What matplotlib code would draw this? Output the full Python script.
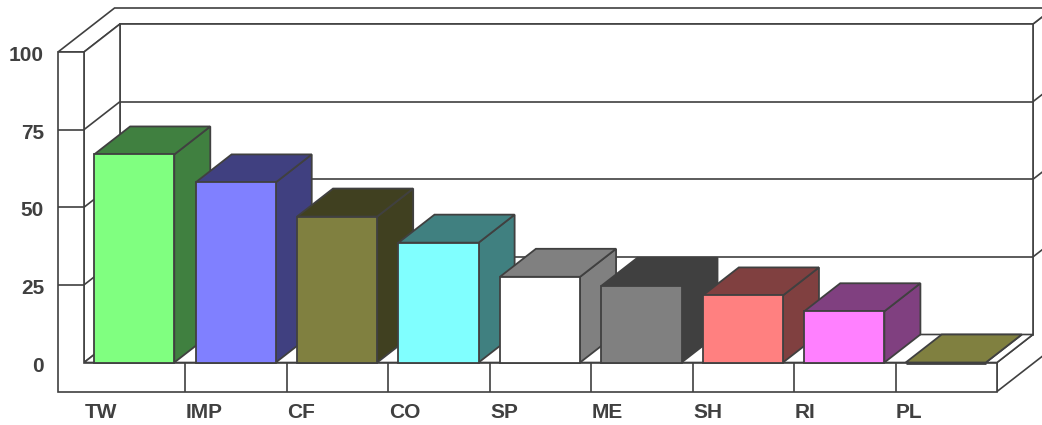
import matplotlib
matplotlib.use('Agg')
import matplotlib.pyplot as plt
from matplotlib.patches import Polygon

# 数据
categories = ['TW', 'IMP', 'CF', 'CO', 'SP', 'ME', 'SH', 'RI', 'PL']
values = [67, 58, 47, 38.6, 27.6, 24.7, 21.6, 16.5, 0]
y_ticks = [0, 25, 50, 75, 100]

front_colors = ['#80ff80', '#8080ff', '#808040', '#80ffff', '#ffffff',
                '#808080', '#ff8080', '#ff80ff', '#808040']
side_colors = ['#408040', '#404080', '#404020', '#408080', '#808080',
               '#404040', '#804040', '#804080', '#404020']

EDGE = '#404040'

# 像素尺度 -> 数据尺度
PX_X = 913 / 9.0        # 每个类别的像素宽度
PX_Y = 3.105            # 每个数值单位的像素高度
DX = 36 / PX_X          # 深度方向的 x 偏移
DY = 28 / PX_Y          # 深度方向的 y 偏移
DO = 44 / 28.0          # 背墙外侧深度
T = 26 / PX_X           # 左墙厚度
FB = 29 / PX_Y          # 底板厚度
W = len(categories)
VMAX = y_ticks[-1]


def P(x, d, v):
    return (x + d * DX, v + d * DY)


fig = plt.figure(figsize=(10.42, 4.25), dpi=100)
ax = fig.add_axes([0, 0, 1, 1])
ax.set_xlim(-84 / PX_X, (1042 - 84) / PX_X)
ax.set_ylim((362.5 - 425) / PX_Y, 362.5 / PX_Y)
ax.axis('off')

z = [1]


def face(pts, fc='white', lw=1.2):
    ax.add_patch(Polygon(pts, closed=True, facecolor=fc, edgecolor=EDGE,
                         linewidth=lw, zorder=z[0]))
    z[0] += 1


def seg(a, b, lw=1.2):
    ax.plot([a[0], b[0]], [a[1], b[1]], color=EDGE, linewidth=lw,
            zorder=z[0], solid_capstyle='butt')


# --- 墙体与底板 ---
face([P(W, 0, 0), P(W, 0, -FB), P(W, DO, -FB), P(W, DO, VMAX),
      P(W, 1, VMAX), P(W, 1, 0)])
face([P(-T, 0, VMAX), P(0, 0, VMAX), P(0, 1, VMAX), P(W, 1, VMAX),
      P(W, DO, VMAX), P(-T, DO, VMAX)])
face([P(0, 1, 0), P(W, 1, 0), P(W, 1, VMAX), P(0, 1, VMAX)])
face([P(0, 0, 0), P(0, 1, 0), P(0, 1, VMAX), P(0, 0, VMAX)])
face([P(0, 0, 0), P(W, 0, 0), P(W, 1, 0), P(0, 1, 0)])
face([P(-T, 0, VMAX), P(-T, 0, -FB), P(W, 0, -FB), P(W, 0, 0),
      P(0, 0, 0), P(0, 0, VMAX)])

# 网格线（绕墙一圈）
for v in y_ticks[1:-1]:
    seg(P(-T, 0, v), P(0, 0, v))
    seg(P(0, 0, v), P(0, 1, v))
    seg(P(0, 1, v), P(W, 1, v))
    seg(P(W, 1, v), P(W, DO, v))

# 类别分隔线
for k in range(1, W):
    seg(P(k, 0, 0), P(k, 0, -FB))
z[0] += 1

# --- 柱子，从左到右绘制 ---
for i, v in enumerate(values):
    x0 = i + 0.1
    x1 = i + 0.89
    top_c = side_colors[i] if v > 0 else front_colors[i]
    face([P(x1, 0, 0), P(x1, 1, 0), P(x1, 1, v), P(x1, 0, v)],
         fc=side_colors[i], lw=1.3)
    face([P(x0, 0, v), P(x1, 0, v), P(x1, 1, v), P(x0, 1, v)],
         fc=top_c, lw=1.3)
    face([P(x0, 0, 0), P(x1, 0, 0), P(x1, 0, v), P(x0, 0, v)],
         fc=front_colors[i], lw=1.3 if v > 0 else 2.0)

# --- 文字 ---
font = dict(family=['Liberation Sans', 'DejaVu Sans'], fontsize=15,
            fontweight='bold', color='#404040')
for v in y_ticks:
    ax.text(-40 / PX_X, v - 9 / PX_Y, str(v), ha='right', va='baseline', **font)
for i, c in enumerate(categories):
    ax.text(i + 0.005, -56 / PX_Y, c, ha='left', va='baseline', **font)

fig.savefig('out.png', dpi=100)
